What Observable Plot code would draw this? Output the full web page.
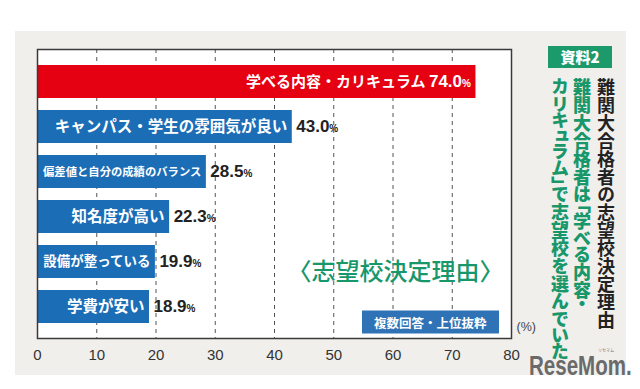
<!DOCTYPE html>
<html>
<head>
<meta charset="utf-8">
<script src="https://cdn.jsdelivr.net/npm/d3@7"></script>
<script src="https://cdn.jsdelivr.net/npm/@observablehq/plot@0.6"></script>
<style>
  html, body { margin: 0; padding: 0; background: #fff; }
  #wrap { position: relative; width: 640px; height: 389px; overflow: hidden; background: #fff; }
  #panel { position: absolute; left: 15px; top: 31px; width: 611px; height: 344px; background: #f1efec; }
  #chart { position: absolute; left: 0; top: 0; }
  .vt { position: absolute; writing-mode: vertical-rl; font-family: "Noto Sans CJK JP", sans-serif; white-space: nowrap;
        font-feature-settings: "vpal" 1; }
  #badge { position: absolute; left: 548px; top: 46px; width: 64px; height: 22px; background: #1d9a6c; color: #fff;
           font: 800 15px "Noto Sans CJK JP", sans-serif; line-height: 22px; text-align: center; }
  #logo { position: absolute; left: 529px; top: 353px; font: bold 27px "Liberation Sans", Arial, sans-serif;
          color: #6a6a6a; line-height: 27px; transform: scaleX(0.76); transform-origin: 0 0; white-space: nowrap; }
  #ruby { position: absolute; left: 598px; top: 348px; font: 4px "Noto Sans CJK JP", sans-serif; line-height: 4px; color: #777; white-space: nowrap; }
</style>
</head>
<body>
<div id="wrap">
  <div id="panel"></div>
  <div id="chart"></div>
  <div id="badge"></div>
  <div id="sub" class="vt"></div>
  <div id="head1" class="vt"></div>
  <div id="head2" class="vt"></div>
  <div id="logo"></div>
  <div id="ruby"></div>
</div>
<script>
// ---- data ----
const categories = [
  "学べる内容・カリキュラム",
  "キャンパス・学生の雰囲気が良い",
  "偏差値と自分の成績のバランス",
  "知名度が高い",
  "設備が整っている",
  "学費が安い"
];
const values = [74.0, 43.0, 28.5, 22.3, 19.9, 18.9];
const xTicks = [0, 10, 20, 30, 40, 50, 60, 70, 80];
const gridTicks = [10, 20, 30, 40, 50, 60, 70];
const centerTitle = "〈志望校決定理由〉";
const noteText = "複数回答・上位抜粋";
const unitText = "(%)";
const badgeText = "資料2";
const subtitleText = "難関大合格者の志望校決定理由";
const headlineLines = ["難関大合格者は「学べる内容・", "カリキュラム」で志望校を選んでいた"];
const logoText = "ReseMom.";
const rubyText = "リセマム";

// ---- layout ----
const W = 640, H = 389;
const mL = 37, mR = 129, mT = 49, mB = 51;
const pxPerUnit = (W - mL - mR) / 80;
const JP = "Noto Sans CJK JP, sans-serif";
const NARROW = "Liberation Sans Narrow, Liberation Sans, Arial, sans-serif";
const RED = "#e50012", BLUE = "#1b6db6", GREEN = "#17976a";

const data = categories.map((c, i) => ({cat: c, value: values[i], top: i === 0}));

const svg = Plot.plot({
  width: W, height: H,
  marginLeft: mL, marginRight: mR, marginTop: mT, marginBottom: mB,
  style: {background: "transparent", color: "#333", fontSize: "15px", fontFamily: NARROW, overflow: "visible"},
  x: {domain: [0, 80], ticks: xTicks, tickSize: 0, tickPadding: 11, label: null},
  y: {domain: categories, axis: null, paddingInner: 0.27, paddingOuter: 0.33},
  marks: [
    Plot.frame({fill: "white"}),
    Plot.ruleX(gridTicks, {stroke: "#555", strokeDasharray: "4,4", strokeWidth: 1}),
    Plot.barX(data, {x: "value", y: "cat", fill: d => d.top ? RED : BLUE}),
    Plot.text(data, {
      x: "value", y: "cat",
      text: d => d.top ? `${d.cat} ${d.value.toFixed(1)}%` : d.cat,
      textAnchor: "end", dx: -5, fill: "white", fontWeight: "bold", fontFamily: JP,
      fontSize: d => d.top ? 15 : Math.min(15.5, (d.value * pxPerUnit - 10) / d.cat.length)
    }),
    Plot.text(data.filter(d => !d.top), {
      x: "value", y: "cat", text: d => d.value.toFixed(1) + "%",
      textAnchor: "start", dx: 4, fill: "#222", fontWeight: "bold", fontFamily: NARROW, fontSize: 17
    }),
    Plot.frame({stroke: "#3a3a3a", strokeWidth: 1.5}),
    Plot.text([centerTitle], {
      frameAnchor: "bottom-right", dx: -116, dy: -66, textAnchor: "middle", lineAnchor: "middle",
      fill: GREEN, fontSize: 24, fontFamily: JP, fontWeight: 500
    }),
    Plot.text([noteText], {
      frameAnchor: "bottom-right", dx: -25, dy: -15, textAnchor: "end", lineAnchor: "middle",
      fill: "white", fontSize: 12.5, fontFamily: JP, fontWeight: "bold"
    }),
    Plot.text([unitText], {
      frameAnchor: "bottom-right", dx: 5, dy: -12, textAnchor: "start", lineAnchor: "middle",
      fill: "#444", fontSize: 12.5, fontFamily: NARROW
    })
  ]
});
document.getElementById("chart").append(svg);

// small "%" sign and narrow digits in value labels
d3.select(svg).selectAll("text").each(function () {
  const t = this.textContent;
  const m = t.match(/^(.*?)(\d+\.\d)%$/);
  if (!m) return;
  const sel = d3.select(this);
  sel.text(null);
  if (m[1]) sel.append("tspan").text(m[1]);
  sel.append("tspan").attr("font-family", NARROW).attr("font-size", "17px").attr("font-weight", "bold").text(m[2]);
  sel.append("tspan").attr("font-family", NARROW).attr("font-size", "10px").attr("font-weight", "bold").text("%");
});

// blue box behind the note
d3.select(svg).selectAll("text").filter(function () { return this.textContent === noteText; }).each(function () {
  const b = this.getBBox();
  const r = document.createElementNS("http://www.w3.org/2000/svg", "rect");
  r.setAttribute("x", b.x - 12);
  r.setAttribute("y", b.y - 2);
  r.setAttribute("width", b.width + 24);
  r.setAttribute("height", b.height + 4);
  r.setAttribute("fill", "#2f73b6");
  const tr = this.getAttribute("transform");
  if (tr) r.setAttribute("transform", tr);
  this.parentNode.insertBefore(r, this);
});

// side texts
document.getElementById("badge").textContent = badgeText;
function vt(id, text, cx, top, size, weight, color) {
  const el = document.getElementById(id);
  el.textContent = text;
  Object.assign(el.style, {
    left: (cx - size / 2) + "px", top: top + "px", fontSize: size + "px", lineHeight: size + "px",
    fontWeight: weight, color: color
  });
}
vt("sub", subtitleText, 606, 78, 18, 600, "#222");
vt("head1", headlineLines[0], 582, 78, 18, 900, GREEN);
vt("head2", headlineLines[1], 560, 78, 18, 900, GREEN);
document.getElementById("logo").textContent = logoText;
document.getElementById("ruby").textContent = rubyText;
</script>
</body>
</html>
